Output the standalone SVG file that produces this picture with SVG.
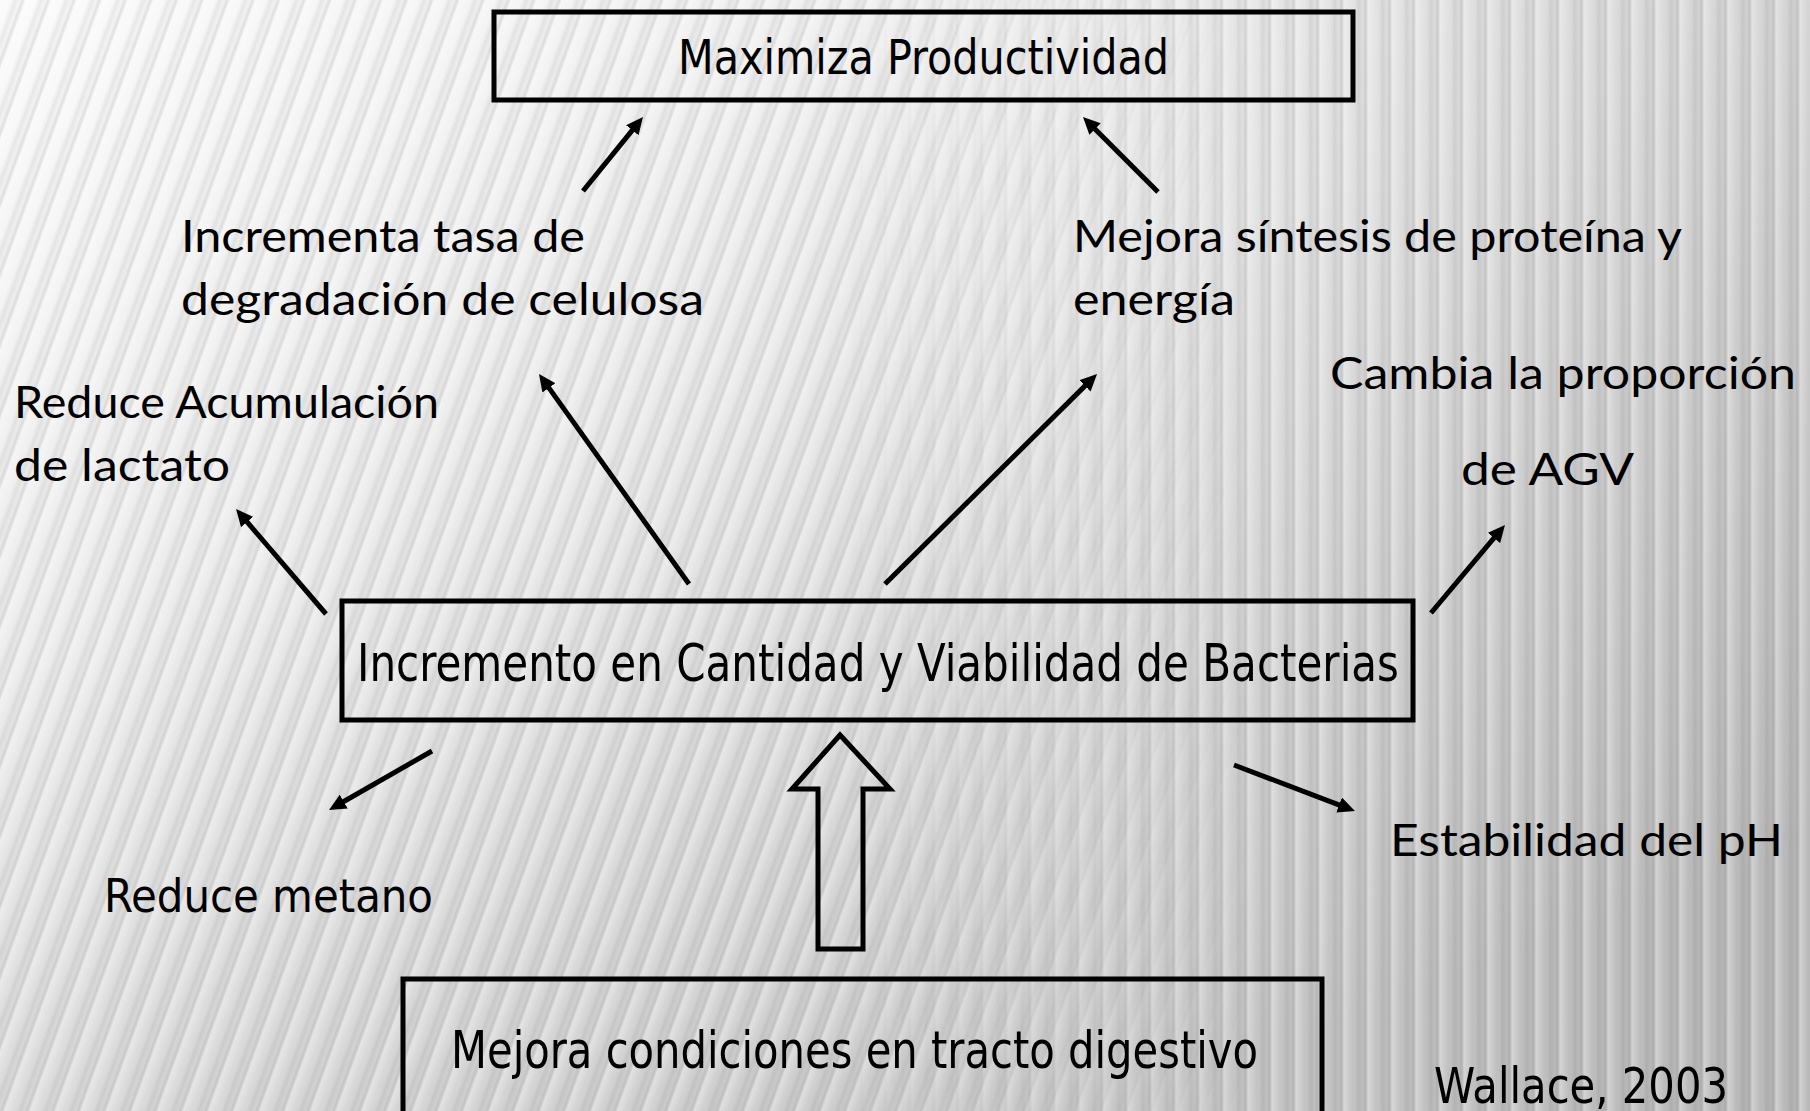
<svg xmlns="http://www.w3.org/2000/svg" width="1810" height="1111" viewBox="0 0 1810 1111">
  <defs>
    <linearGradient id="bg" x1="0" y1="0" x2="0.6" y2="1">
      <stop offset="0" stop-color="#fbfbfb"/>
      <stop offset="0.45" stop-color="#ececec"/>
      <stop offset="1" stop-color="#cdcdcd"/>
    </linearGradient>
    <linearGradient id="shadeR" x1="0" y1="0" x2="1" y2="0">
      <stop offset="0" stop-color="#000" stop-opacity="0"/>
      <stop offset="0.6" stop-color="#000" stop-opacity="0.02"/>
      <stop offset="1" stop-color="#000" stop-opacity="0.1"/>
    </linearGradient>
    <linearGradient id="stripeG" x1="0" y1="0" x2="1" y2="0">
      <stop offset="0" stop-color="#fff" stop-opacity="0.35"/>
      <stop offset="0.35" stop-color="#fff" stop-opacity="0"/>
      <stop offset="0.6" stop-color="#000" stop-opacity="0.07"/>
      <stop offset="0.8" stop-color="#000" stop-opacity="0.02"/>
      <stop offset="1" stop-color="#fff" stop-opacity="0.35"/>
    </linearGradient>
    <pattern id="stripesT" width="24" height="24" patternUnits="userSpaceOnUse" patternTransform="rotate(20)">
      <rect x="0" y="0" width="24" height="24" fill="url(#stripeG)"/>
    </pattern>
    <pattern id="stripesV" width="24" height="24" patternUnits="userSpaceOnUse">
      <rect x="0" y="0" width="24" height="24" fill="url(#stripeG)"/>
    </pattern>
    <linearGradient id="fadeL" x1="0" y1="0" x2="1" y2="0">
      <stop offset="0" stop-color="#fff"/>
      <stop offset="0.45" stop-color="#fff"/>
      <stop offset="0.7" stop-color="#000"/>
    </linearGradient>
    <linearGradient id="fadeR" x1="0" y1="0" x2="1" y2="0">
      <stop offset="0.45" stop-color="#000"/>
      <stop offset="0.7" stop-color="#fff"/>
    </linearGradient>
    <mask id="mL"><rect width="1810" height="1111" fill="url(#fadeL)"/></mask>
    <mask id="mR"><rect width="1810" height="1111" fill="url(#fadeR)"/></mask>
    <marker id="ah" markerUnits="userSpaceOnUse" viewBox="0 0 17 16" markerWidth="17" markerHeight="16" refX="4" refY="8" orient="auto">
      <path d="M0,0 L17,8 L0,16 Z" fill="#000"/>
    </marker>
    <style>
      .box { fill: none; stroke: #000; stroke-width: 5; }
      .conn { stroke: #000; stroke-width: 5; fill: none; marker-end: url(#ah); }
      .tb { font-family: "DejaVu Sans Condensed", "DejaVu Sans", Tahoma, sans-serif; fill: #000; }
      .tf { font-family: Lato, "Noto Sans", sans-serif; fill: #000; font-size: 44px; }
    </style>
  </defs>

  <g id="background">
    <rect width="1810" height="1111" fill="url(#bg)"/>
    <rect width="1810" height="1111" fill="url(#shadeR)"/>
    <rect width="1810" height="1111" fill="url(#stripesT)" mask="url(#mL)"/>
    <rect width="1810" height="1111" fill="url(#stripesV)" mask="url(#mR)"/>
  </g>

  <g id="connectors">
    <line class="conn" x1="583" y1="191" x2="634.8" y2="127.1"/>
    <line class="conn" x1="1158" y1="192" x2="1092.2" y2="126.2"/>
    <line class="conn" x1="689" y1="584" x2="546.6" y2="384.6"/>
    <line class="conn" x1="885" y1="584" x2="1087.8" y2="383.1"/>
    <line class="conn" x1="326" y1="614" x2="244.5" y2="518.9"/>
    <line class="conn" x1="1431" y1="613" x2="1496.6" y2="534.9"/>
    <line class="conn" x1="432" y1="751" x2="340.3" y2="803.5"/>
    <line class="conn" x1="1234" y1="765" x2="1342.8" y2="806.4"/>
    <path id="block-arrow" d="M840,735 L890,789 L863,789 L863,949 L818,949 L818,789 L792,789 Z" fill="none" stroke="#000" stroke-width="5" stroke-linejoin="miter"/>
  </g>

  <g id="node-maximiza">
    <rect class="box" x="494" y="12" width="859" height="88"/>
    <text class="tb" x="678" y="74" font-size="48" textLength="491" lengthAdjust="spacingAndGlyphs">Maximiza Productividad</text>
  </g>

  <g id="node-incremento">
    <rect class="box" x="342" y="601" width="1071" height="119"/>
    <text class="tb" x="357" y="681" font-size="52" textLength="1042" lengthAdjust="spacingAndGlyphs">Incremento en Cantidad y Viabilidad de Bacterias</text>
  </g>

  <g id="node-mejora-condiciones">
    <rect class="box" x="403" y="979" width="919" height="200"/>
    <text class="tb" x="451" y="1068" font-size="52" textLength="807" lengthAdjust="spacingAndGlyphs">Mejora condiciones en tracto digestivo</text>
  </g>

  <g id="node-celulosa">
    <text class="tf" x="181" y="252" textLength="404" lengthAdjust="spacingAndGlyphs">Incrementa tasa de</text>
    <text class="tf" x="181" y="315" textLength="523" lengthAdjust="spacingAndGlyphs">degradación de celulosa</text>
  </g>

  <g id="node-proteina">
    <text class="tf" x="1073" y="252" textLength="609" lengthAdjust="spacingAndGlyphs">Mejora síntesis de proteína y</text>
    <text class="tf" x="1073" y="315" textLength="162" lengthAdjust="spacingAndGlyphs">energía</text>
  </g>

  <g id="node-lactato">
    <text class="tf" x="14" y="418" textLength="425" lengthAdjust="spacingAndGlyphs">Reduce Acumulación</text>
    <text class="tf" x="14" y="481" textLength="216" lengthAdjust="spacingAndGlyphs">de lactato</text>
  </g>

  <g id="node-agv">
    <text class="tf" x="1330" y="389" textLength="466" lengthAdjust="spacingAndGlyphs">Cambia la proporción</text>
    <text class="tf" x="1461" y="485" textLength="173" lengthAdjust="spacingAndGlyphs">de AGV</text>
  </g>

  <g id="node-metano">
    <text class="tb" x="104" y="912" font-size="47" textLength="329" lengthAdjust="spacingAndGlyphs">Reduce metano</text>
  </g>

  <g id="node-ph">
    <text class="tf" x="1390" y="856" textLength="393" lengthAdjust="spacingAndGlyphs">Estabilidad del pH</text>
  </g>

  <g id="node-citation">
    <text class="tb" x="1434" y="1103" font-size="50" textLength="294" lengthAdjust="spacingAndGlyphs">Wallace, 2003</text>
  </g>
</svg>
